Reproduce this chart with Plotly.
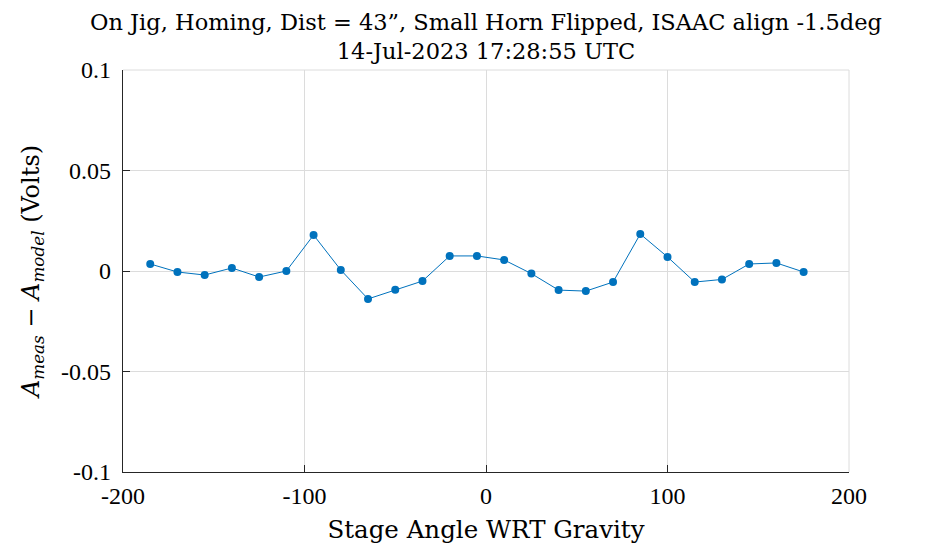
import plotly.graph_objects as go

# stage angle (deg) and residual amplitude (Volts)
angle = [-185, -170, -155, -140, -125, -110, -95, -80, -65, -50, -35, -20, -5,
         10, 25, 40, 55, 70, 85, 100, 115, 130, 145, 160, 175]
resid = [0.0035, -0.0005, -0.002, 0.0015, -0.003, 0.0, 0.0179, 0.0005, -0.0139,
         -0.0093, -0.005, 0.0075, 0.0075, 0.0055, -0.0013, -0.0095, -0.010,
         -0.0055, 0.0184, 0.007, -0.0055, -0.0042, 0.0035, 0.004, -0.0005]

xticks = [-200, -100, 0, 100, 200]
yticks = [-0.1, -0.05, 0, 0.05, 0.1]
ytick_text = ['-0.1', '-0.05', '0', '0.05', '0.1']

serif = 'Liberation Serif'
wide_serif = 'DejaVu Serif'
blue = '#0072BD'

fig = go.Figure()
fig.add_trace(go.Scatter(x=angle, y=resid, mode='lines+markers',
                         line=dict(color=blue, width=1),
                         marker=dict(color=blue, size=8),
                         showlegend=False))

# page body has an 8px margin, so the figure is a bit smaller than the window
fig.update_layout(
    width=930, height=539,
    margin=dict(l=115, r=89, t=62, b=75),
    paper_bgcolor='white', plot_bgcolor='white',
    font=dict(family=serif, color='#262626'),
)

# title as annotation so both lines stay on the page
fig.add_annotation(text='On Jig, Homing, Dist = 43”, Small Horn Flipped, ISAAC align -1.5deg<br>14-Jul-2023 17:28:55 UTC',
                   xref='paper', yref='paper', x=0.5, y=1, xanchor='center', yanchor='bottom',
                   yshift=4, showarrow=False, align='center',
                   font=dict(family=wide_serif, size=22.5, color='black'))

fig.update_xaxes(range=[-200, 200], tickvals=xticks, ticktext=[str(v) for v in xticks],
                 showgrid=True, gridcolor='#dcdcdc', gridwidth=1,
                 showline=True, linecolor='#262626', linewidth=1.2,
                 ticks='inside', ticklen=7, tickcolor='#262626',
                 tickfont=dict(family=serif, size=24, color='black'), ticklabelstandoff=2,
                 zeroline=False, automargin=False,
                 title=dict(text='Stage Angle WRT Gravity', font=dict(family=wide_serif, size=24.5, color='black'), standoff=12))
fig.update_yaxes(range=[-0.1, 0.1], tickvals=yticks, ticktext=ytick_text,
                 showgrid=True, gridcolor='#dcdcdc', gridwidth=1,
                 showline=True, linecolor='#262626', linewidth=1.2,
                 ticks='inside', ticklen=7, tickcolor='#262626',
                 tickfont=dict(family=serif, size=24, color='black'), ticklabelstandoff=6,
                 zeroline=False, automargin=False,
                 title=dict(text='<i>A</i><sub><i>meas</i></sub> − <i>A</i><sub><i>model</i></sub> (Volts)',
                            font=dict(family=wide_serif, size=24, color='black'), standoff=14))

# light frame on top and right like the grid
fig.add_shape(type='line', xref='paper', yref='paper', x0=0, x1=1, y0=1, y1=1,
              line=dict(color='#dcdcdc', width=1))
fig.add_shape(type='line', xref='paper', yref='paper', x0=1, x1=1, y0=0, y1=1,
              line=dict(color='#dcdcdc', width=1))

fig.write_html("out.html")
